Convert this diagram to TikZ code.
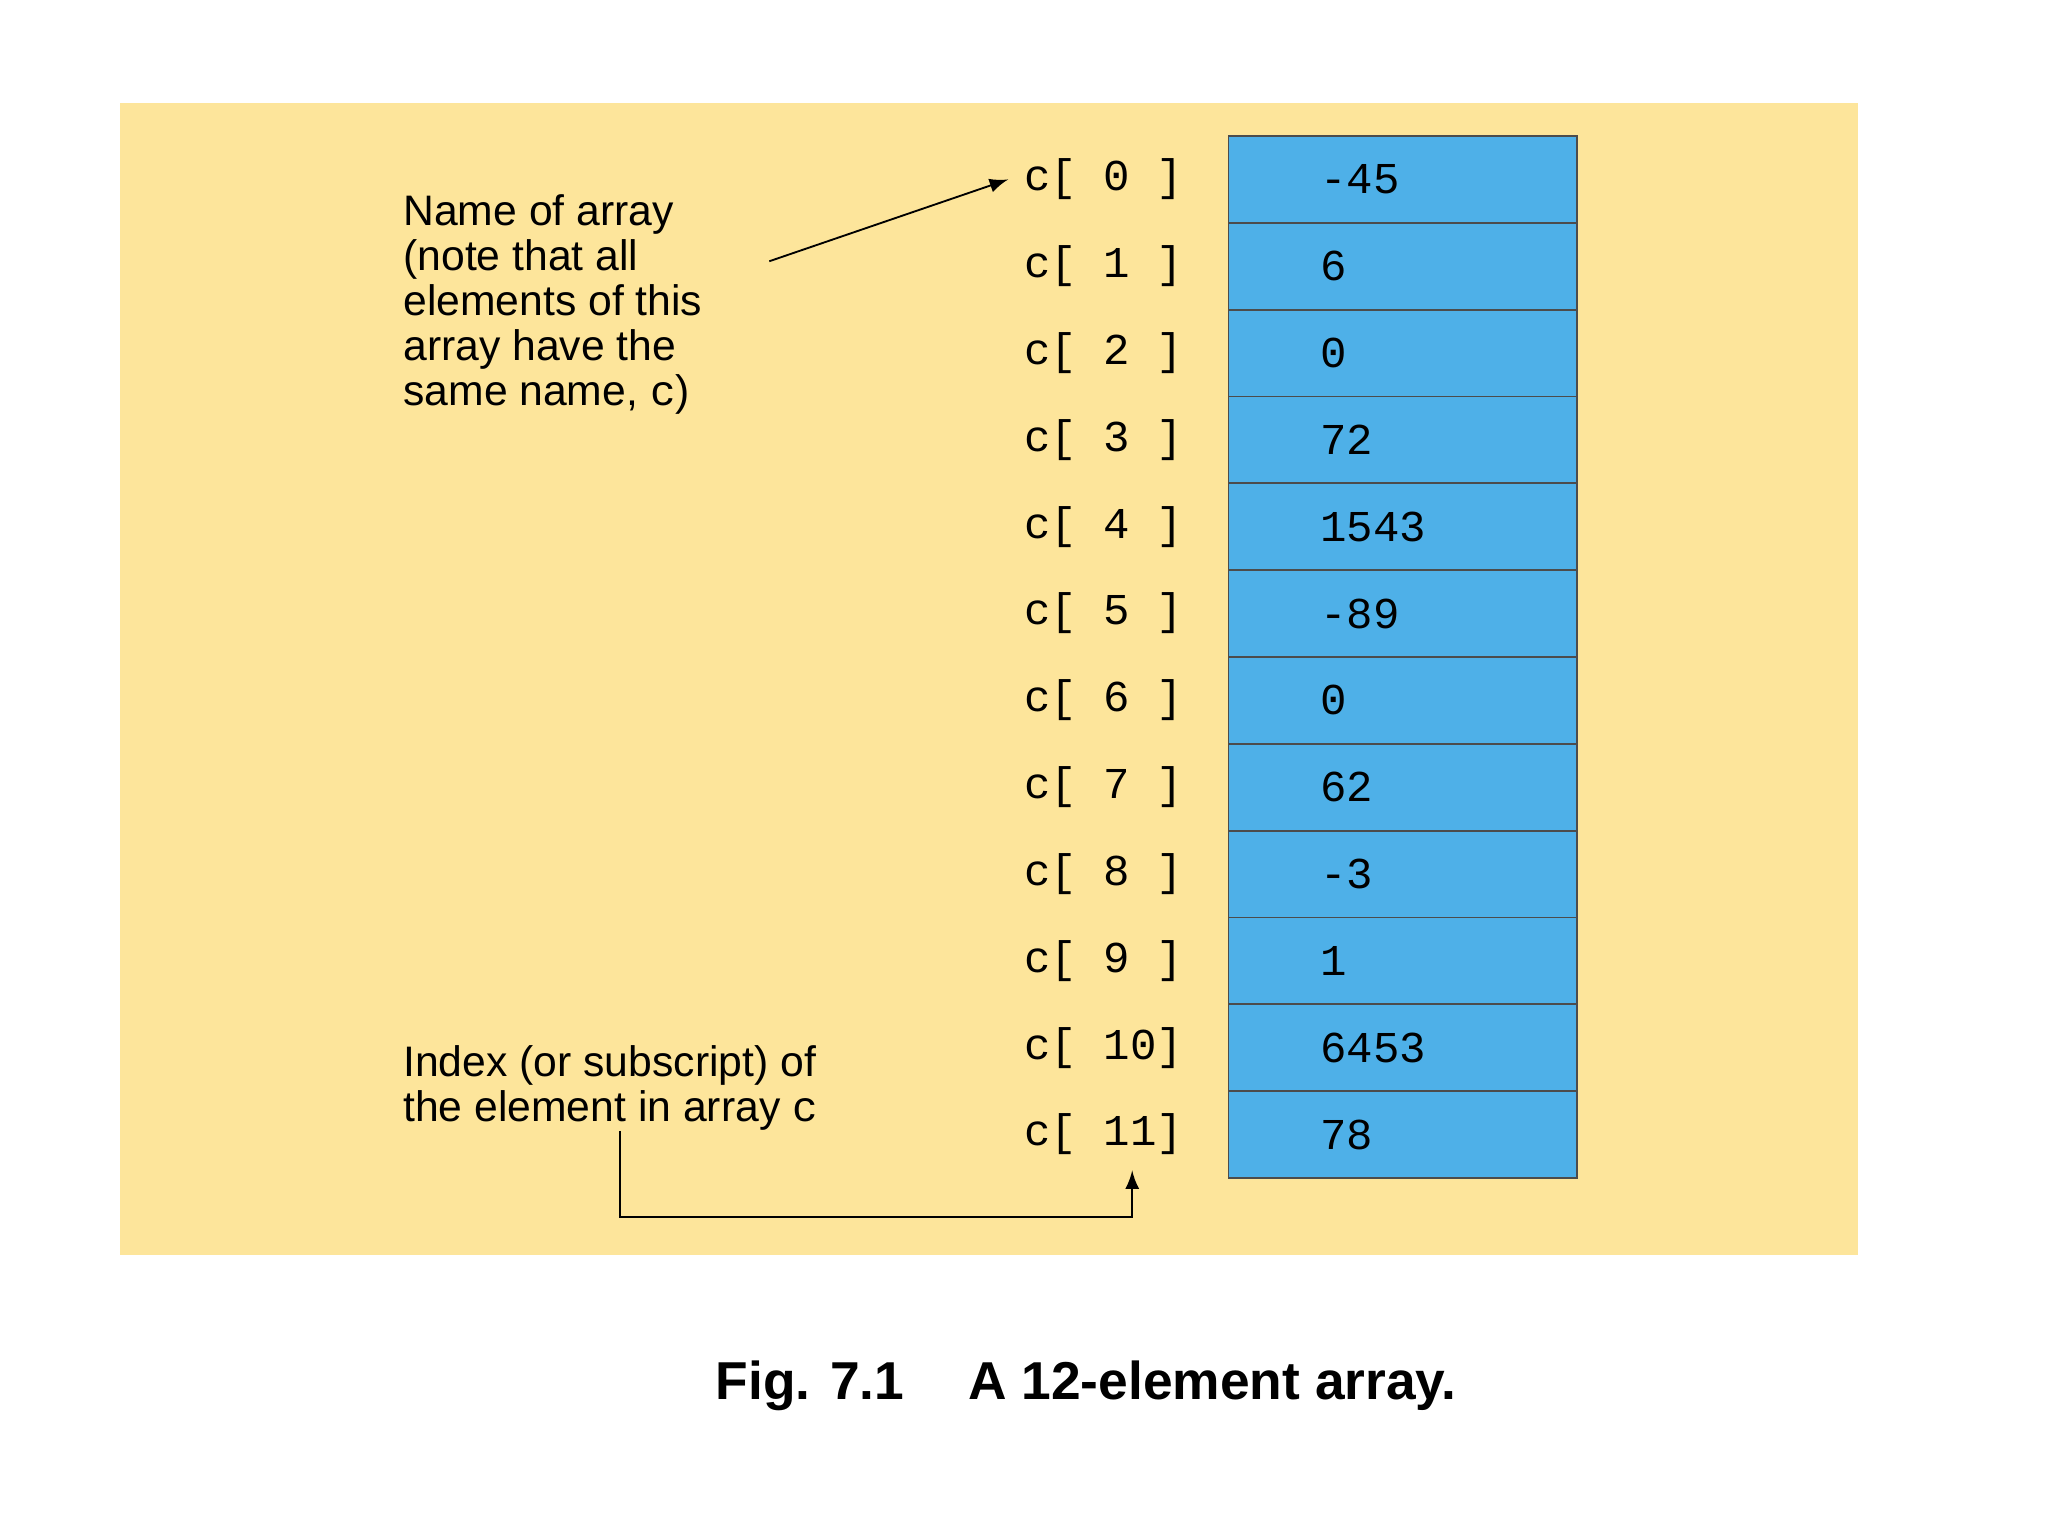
\documentclass[tikz,border=0pt]{standalone}
\usepackage{fontspec}
\setmainfont{Liberation Sans}
\setmonofont{Liberation Mono}
\usetikzlibrary{positioning}
\definecolor{paper}{RGB}{253,229,155}
\definecolor{cellblue}{RGB}{78,176,232}
\tikzset{
  cell/.style={draw=black!70, fill=cellblue, minimum width=2.64cm, minimum height=0.658cm, inner sep=0pt},
  val/.style={font=\fontsize{9.5}{10}\ttfamily, anchor=west},
  idx/.style={font=\fontsize{9.5}{10}\ttfamily, anchor=west},
  note/.style={font=\fontsize{9.2}{9.7}\selectfont, align=left, anchor=north west, inner sep=0pt}
}
\begin{document}
\begin{tikzpicture}
  \useasboundingbox (0,0) rectangle (15.52,11.64);
  \fill[white] (0,0) rectangle (15.52,11.64);
  \fill[paper] (0.91,2.13) rectangle (14.08,10.86);

  % array cells
  \foreach \v [count=\i from 0] in {-45,6,0,72,1543,-89,0,62,-3,1,6453,78} {
    \node[cell] (cell\i) at (10.63, 10.28-0.658*\i) {};
    \node[val] (val\i) at (9.88, 10.28-0.658*\i) {\v};
    \node[idx] (idx\i) at (7.64, 10.28-0.658*\i) {c[ \ifnum\i<10 \i\space\else\i\fi ]};
  }

  % notes
  \node[note] (name) at (3.05,10.17) {Name of array\\(note that all\\elements of this\\array have the\\same name, {\ttfamily c})};
  \node[note] (index) at (3.05,3.72) {Index (or subscript) of\\the element in array {\ttfamily c}};

  \coordinate (nameend) at (5.83,9.66);
  \draw[-latex] (nameend) -- (idx0.west);
  \coordinate (idxstart) at (4.70,3.07);
  \coordinate (turn1) at (4.70,2.42);
  \coordinate (turn2) at (8.58,2.42);
  \coordinate (idxend) at (8.58,2.77);
  \draw[-latex] (idxstart) -- (turn1) -- (turn2) -- (idxend);

  \node[font=\fontsize{11.5}{12}\bfseries] (caption) at (8.23,1.14) {Fig. 7.1\hspace{1.2em}A 12-element array.};
\end{tikzpicture}
\end{document}
